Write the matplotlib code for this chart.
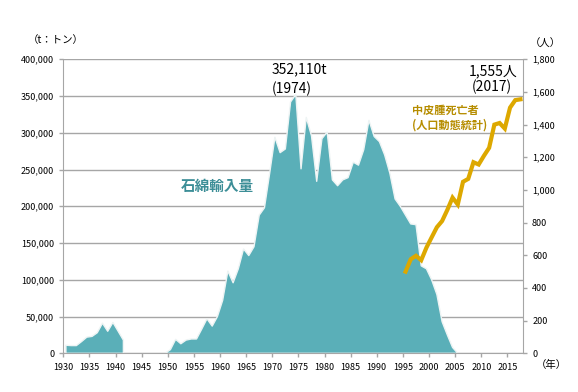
import numpy as np
import matplotlib
matplotlib.use("Agg")
import matplotlib.pyplot as plt
from matplotlib.ticker import FuncFormatter

plt.rcParams['font.family'] = ['Noto Sans CJK JP', 'DejaVu Sans']

# 石綿輸入量 (t)  1942-1948 はデータなし
import_years = list(range(1930, 2006))
import_tons = [11000, 10500, 10500, 16000, 22000, 23000, 28000, 41000, 30000, 42000,
               30000, 18000, np.nan, np.nan, np.nan, np.nan, np.nan, np.nan, np.nan, 0,
               5000, 19000, 13000, 18000, 19500, 19500, 33000, 47000, 37000, 50000,
               72000, 112000, 96000, 115000, 142000, 133000, 145000, 188000, 198000, 245000,
               294000, 273000, 278000, 342000, 352110, 251000, 321000, 296000, 234000, 292000,
               301000, 236000, 228000, 236000, 239000, 260000, 256000, 277000, 317000, 295000,
               288000, 270000, 245000, 210000, 200000, 188000, 176000, 175000, 119000, 115000,
               100000, 80000, 43000, 25000, 8000, 0]

# 中皮腫死亡者数 (人口動態統計)
death_years = list(range(1995, 2018))
deaths = [500, 576, 597, 570, 647, 710, 772, 810, 878, 953, 911, 1050, 1068, 1170,
          1156, 1209, 1258, 1400, 1410, 1376, 1504, 1550, 1555]

tick_years = list(range(1930, 2020, 5))

teal = '#5AAFB8'
gold = '#DDA800'
grid_c = '#A6A6A6'

fig = plt.figure(figsize=(5.78, 3.92), dpi=100)
ax = fig.add_axes([0.1095, 0.0987, 0.7955, 0.75])
ax2 = ax.twinx()

ax.set_axisbelow(True)
ax.yaxis.grid(True, color=grid_c, linewidth=1.0)
ax.fill_between(import_years, 0, import_tons, facecolor=teal,
                edgecolor='#EEF4F4', linewidth=1.0, zorder=2)

ax2.plot(death_years, deaths, color=gold, linewidth=3, solid_joinstyle='miter', zorder=3)

ax.set_xlim(1929.5, 2017.5)
ax.set_ylim(0, 400000)
ax2.set_ylim(0, 1800)
ax.set_yticks(np.arange(0, 400001, 50000))
ax2.set_yticks(np.arange(0, 1801, 200))
fmt = FuncFormatter(lambda v, p: f'{int(v):,}')
ax.yaxis.set_major_formatter(fmt)
ax2.yaxis.set_major_formatter(fmt)
ax.set_xticks([y - 0.5 for y in tick_years])
ax.set_xticklabels([str(y) for y in tick_years])

for a in (ax, ax2):
    for s in a.spines.values():
        s.set_color(grid_c)
    a.spines['top'].set_visible(False)
    a.tick_params(colors=grid_c, labelcolor='black', labelsize=6.5, length=3,
                  direction='out', width=1)
ax.spines['right'].set_visible(False)
ax2.spines['left'].set_visible(False)
ax2.spines['bottom'].set_visible(False)
ax.tick_params(axis='x', pad=4)

fig.text(28 / 578, 1 - 40 / 392, '（t：トン）', fontsize=7.5, va='center', ha='left')
fig.text(530 / 578, 1 - 44 / 392, '（人）', fontsize=7.5, va='center', ha='left')
fig.text(536 / 578, 1 - 365 / 392, '（年）', fontsize=7.5, va='center', ha='left')

fig.text(272 / 578, 1 - 69 / 392, '352,110t', fontsize=10, va='center', ha='left')
fig.text(272 / 578, 1 - 89 / 392, '(1974)', fontsize=10, va='center', ha='left')
fig.text(517 / 578, 1 - 71 / 392, '1,555人', fontsize=10, va='center', ha='right')
fig.text(512 / 578, 1 - 87 / 392, '(2017)', fontsize=10, va='center', ha='right')

fig.text(181 / 578, 1 - 186 / 392, '石綿輸入量', fontsize=10.5, fontweight='bold',
         color='#3C8E97', va='center', ha='left')
fig.text(412 / 578, 1 - 110 / 392, '中皮腫死亡者', fontsize=8, fontweight='bold',
         color='#B68D00', va='center', ha='left')
fig.text(412 / 578, 1 - 125 / 392, '(人口動態統計)', fontsize=8, fontweight='bold',
         color='#B68D00', va='center', ha='left')

plt.savefig('out.png', dpi=100)
